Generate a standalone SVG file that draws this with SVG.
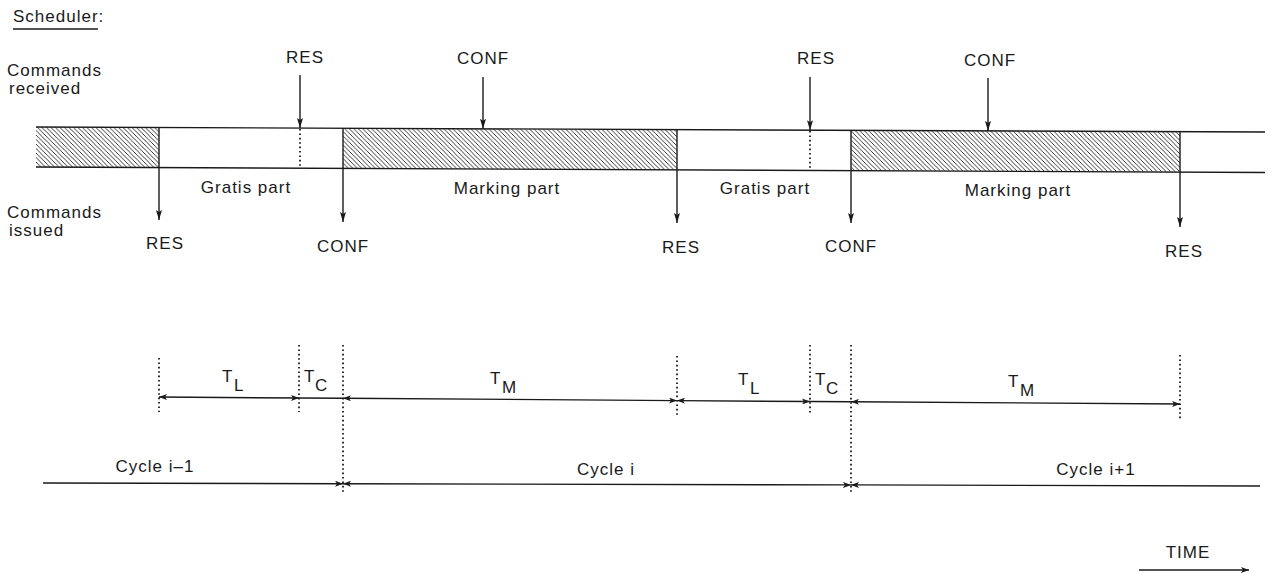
<svg xmlns="http://www.w3.org/2000/svg" width="1273" height="573" viewBox="0 0 1273 573">
<defs>
<style>
text{font-family:"Liberation Sans",Arial,sans-serif;font-size:17px;fill:#1a1a1a;letter-spacing:1px}
.m{text-anchor:middle}
.t{font-size:17px;letter-spacing:0}
.ln{stroke:#1a1a1a;stroke-width:1.4;fill:none}
.dot{stroke:#1a1a1a;stroke-width:1.8;stroke-dasharray:1.6 2.8;fill:none}
.hatch{fill:url(#hp);stroke:none}
</style>
<pattern id="hp" patternUnits="userSpaceOnUse" width="4.5" height="4.5">
<rect width="4.5" height="4.5" fill="#fff"/>
<path d="M0,0 L4.5,4.5 M-1,3.5 L1,5.5 M3.5,-1 L5.5,1" stroke="#222" stroke-width="0.9"/>
</pattern>
<marker id="ah" viewBox="0 0 10 6" refX="10" refY="3" markerWidth="10" markerHeight="6" markerUnits="userSpaceOnUse" orient="auto-start-reverse">
<path d="M0,0 L10,3 L0,6 L2,3 z" fill="#1a1a1a"/>
</marker>
<marker id="dh" viewBox="0 0 8 6" refX="8" refY="3" markerWidth="8" markerHeight="6" markerUnits="userSpaceOnUse" orient="auto-start-reverse">
<path d="M0,0 L8,3 L0,6 L2,3 z" fill="#1a1a1a"/>
</marker>
</defs>
<rect width="1273" height="573" fill="#fff"/>

<g id="title">
<text x="13" y="22">Scheduler:</text>
<line x1="13" y1="29" x2="98" y2="29" class="ln" stroke-width="1.3"/>
</g>
<g id="row-labels">
<text x="7" y="76">Commands</text>
<text x="9" y="94">received</text>
<text x="7" y="218">Commands</text>
<text x="9" y="236">issued</text>
</g>

<g id="band">
<polygon class="hatch" points="36,127 159,127.5 159,167.5 36,167"/>
<polygon class="hatch" points="343,128.3 677,129.6 677,169.6 343,168.3"/>
<polygon class="hatch" points="851,130.3 1180,131.7 1180,171.7 851,170.3"/>
<line class="ln" x1="36" y1="127" x2="1265" y2="132"/>
<line class="ln" x1="36" y1="167" x2="1265" y2="172.5"/>
<line class="dot" x1="300" y1="129" x2="300" y2="168"/>
<line class="dot" x1="810" y1="131" x2="810" y2="170"/>
<text class="m" x="246" y="193">Gratis part</text>
<text class="m" x="507" y="194">Marking part</text>
<text class="m" x="765" y="194">Gratis part</text>
<text class="m" x="1018" y="196">Marking part</text>
</g>

<g id="connectors">
<line class="ln" x1="300" y1="75" x2="300" y2="128" marker-end="url(#ah)"/>
<line class="ln" x1="483" y1="77" x2="483" y2="128.8" marker-end="url(#ah)"/>
<line class="ln" x1="810" y1="77" x2="810" y2="130.2" marker-end="url(#ah)"/>
<line class="ln" x1="988" y1="78" x2="988" y2="130.9" marker-end="url(#ah)"/>
<line class="ln" x1="159" y1="127.5" x2="159" y2="220" marker-end="url(#ah)"/>
<line class="ln" x1="343" y1="128.3" x2="343" y2="222" marker-end="url(#ah)"/>
<line class="ln" x1="677" y1="129.6" x2="677" y2="223" marker-end="url(#ah)"/>
<line class="ln" x1="851" y1="130.3" x2="851" y2="223" marker-end="url(#ah)"/>
<line class="ln" x1="1180" y1="131.7" x2="1180" y2="227" marker-end="url(#ah)"/>
</g>

<g id="command-labels">
<text class="m" x="305" y="63">RES</text>
<text class="m" x="483" y="64">CONF</text>
<text class="m" x="816" y="64">RES</text>
<text class="m" x="990" y="66">CONF</text>
<text class="m" x="165" y="249">RES</text>
<text class="m" x="343" y="252">CONF</text>
<text class="m" x="681" y="253">RES</text>
<text class="m" x="851" y="252">CONF</text>
<text class="m" x="1184" y="257">RES</text>
</g>

<g id="dimension-marks">
<line class="dot" x1="159" y1="358" x2="159" y2="412"/>
<line class="dot" x1="299" y1="345" x2="299" y2="412"/>
<line class="dot" x1="343" y1="345" x2="343" y2="493"/>
<line class="dot" x1="677" y1="356" x2="677" y2="417"/>
<line class="dot" x1="810" y1="345" x2="810" y2="413"/>
<line class="dot" x1="851" y1="345" x2="851" y2="494"/>
<line class="dot" x1="1180" y1="355" x2="1180" y2="419"/>
</g>

<g id="dimensions">
<line class="ln" x1="159" y1="397" x2="299" y2="398" marker-start="url(#dh)" marker-end="url(#dh)"/>
<line class="ln" x1="299" y1="398" x2="343" y2="398.2"/>
<line class="ln" x1="343" y1="398.2" x2="677" y2="400.6" marker-start="url(#dh)" marker-end="url(#dh)"/>
<line class="ln" x1="677" y1="400.6" x2="810" y2="401.5" marker-start="url(#dh)" marker-end="url(#dh)"/>
<line class="ln" x1="810" y1="401.5" x2="851" y2="401.8"/>
<line class="ln" x1="851" y1="401.8" x2="1180" y2="404" marker-start="url(#dh)" marker-end="url(#dh)"/>
<text class="t" x="222" y="382">T</text><text class="t" x="234" y="391">L</text>
<text class="t" x="304" y="382">T</text><text class="t" x="315" y="391">C</text>
<text class="t" x="490" y="384">T</text><text class="t" x="502" y="393">M</text>
<text class="t" x="738" y="385">T</text><text class="t" x="750" y="394">L</text>
<text class="t" x="815" y="385">T</text><text class="t" x="826" y="394">C</text>
<text class="t" x="1008" y="387">T</text><text class="t" x="1020" y="396">M</text>
</g>

<g id="cycles">
<line class="ln" x1="43" y1="483" x2="343" y2="483.7" marker-end="url(#dh)"/>
<line class="ln" x1="343" y1="483.7" x2="851" y2="484.9" marker-start="url(#dh)" marker-end="url(#dh)"/>
<line class="ln" x1="851" y1="484.9" x2="1260" y2="486" marker-start="url(#dh)"/>
<text class="m" x="155" y="472">Cycle  i–1</text>
<text class="m" x="606" y="475">Cycle  i</text>
<text class="m" x="1096" y="475">Cycle  i+1</text>
</g>

<g id="time">
<text class="m" x="1188" y="558">TIME</text>
<line class="ln" x1="1139" y1="570" x2="1249" y2="570" marker-end="url(#dh)"/>
</g>
</svg>
